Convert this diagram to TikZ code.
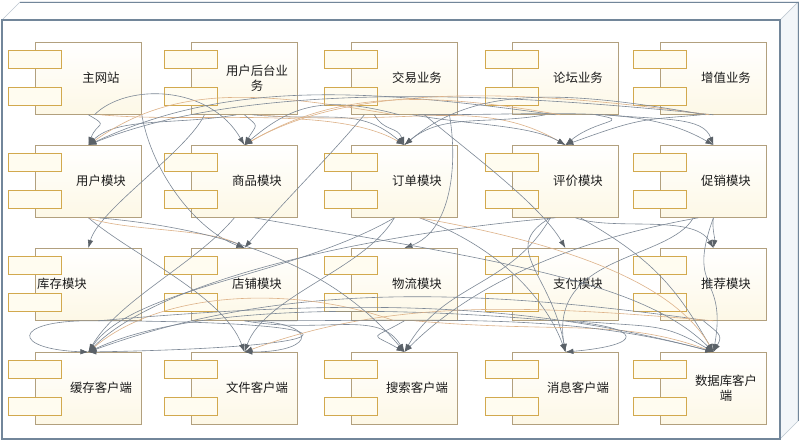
\documentclass[tikz,border=0pt]{standalone}
\usepackage{fontspec}
\newfontfamily\cjk{Noto Sans CJK SC}
\usetikzlibrary{arrows.meta}
\definecolor{framec}{HTML}{72869A}
\definecolor{framel}{HTML}{BCC6D0}
\definecolor{sidefill}{HTML}{F3F6F9}
\definecolor{bodyc}{HTML}{B2A07E}
\definecolor{bodyfill}{HTML}{FDF8E6}
\definecolor{tabc}{HTML}{D2A94E}
\definecolor{tabfill}{HTML}{FFFCF0}
\definecolor{linec}{HTML}{7D8896}
\definecolor{lineo}{HTML}{DDB288}
\definecolor{tipc}{HTML}{5A6168}
\definecolor{labelc}{HTML}{1C1C1C}
\tikzset{
  compbody/.style={draw=bodyc, line width=0.8pt, top color=white, bottom color=bodyfill,
    minimum width=106pt, minimum height=72pt, inner sep=0pt, anchor=north west},
  comptab/.style={draw=tabc, line width=0.8pt, fill=tabfill,
    minimum width=53pt, minimum height=18pt, inner sep=0pt, anchor=north west},
  complabel/.style={font=\cjk\fontsize{12.4}{15}\selectfont, text=labelc, align=center, inner sep=0pt},
  dep/.style={draw=linec, line width=0.6pt, -{Latex[length=8pt,width=5.5pt,color=tipc]}},
  depo/.style={draw=lineo, line width=0.6pt, -{Latex[length=8pt,width=5.5pt,color=tipc]}},
}
\newcommand\compo[5]{%
  \node[compbody] (#1) at (#2,-#3) {};
  \node[comptab] (#1-ta) at ({#2-27},{-#3-8}) {};
  \node[comptab] (#1-tb) at ({#2-27},{-#3-45}) {};
  \node[complabel] (#1-lab) at ({#2+#5},{-#3-36}) {#4};
}
\newcommand\dep[7][dep]{\draw[#1] (#2) to[out=#4,in=#5,out distance=#6pt,in distance=#7pt] (#3);}
\begin{document}
\begin{tikzpicture}[x=1pt,y=1pt]
\useasboundingbox (0,0) rectangle (800,-441);
% 3D frame
\fill[white] (0,0) rectangle (800,-441);
\draw[framel, fill=sidefill, line width=0.6pt] (780,-20) -- (798,-2) -- (798,-421) -- (780,-439) -- cycle;
\draw[framel, fill=white, line width=0.6pt] (2,-20) -- (20,-2) -- (798,-2) -- (780,-20) -- cycle;
\draw[framec, line width=0.9pt] (20,-2) -- (798,-2) -- (798,-421);
\draw[framec, line width=1.1pt, fill=white] (2,-20) rectangle (780,-439);
% components
\compo{zw}{35}{42}{主网站}{66}
\compo{yh}{191}{42}{用户后台业\\务}{66}
\compo{jy}{351}{42}{交易业务}{66}
\compo{lt}{512}{42}{论坛业务}{66}
\compo{zz}{660}{42}{增值业务}{66}
\compo{yhmk}{35}{145}{用户模块}{66}
\compo{spmk}{191}{145}{商品模块}{66}
\compo{ddmk}{351}{145}{订单模块}{66}
\compo{pjmk}{512}{145}{评价模块}{66}
\compo{cxmk}{660}{145}{促销模块}{66}
\compo{kcmk}{35}{248}{库存模块}{27}
\compo{dpmk}{191}{248}{店铺模块}{66}
\compo{wlmk}{351}{248}{物流模块}{66}
\compo{zfmk}{512}{248}{支付模块}{66}
\compo{tjmk}{660}{248}{推荐模块}{66}
\compo{hc}{35}{352}{缓存客户端}{66}
\compo{wj}{191}{352}{文件客户端}{66}
\compo{ss}{351}{352}{搜索客户端}{66}
\compo{xx}{512}{352}{消息客户端}{66}
\compo{sj}{660}{352}{数据库客户\\端}{66}
% row 1 -> row 2
\dep{zw.south}{yhmk.north}{-30}{70}{25}{25}
\dep{[xshift=6pt]zw.south}{spmk.north}{45}{120}{45}{70}
\dep[depo]{[xshift=12pt]zw.south}{ddmk.north}{-5}{150}{100}{80}
\dep{[xshift=-8pt]yh.south}{yhmk.north}{190}{45}{60}{40}
\dep{yh.south}{spmk.north}{-40}{60}{20}{25}
\dep{[xshift=8pt]yh.south}{ddmk.north}{-5}{140}{80}{60}
\dep[depo]{[xshift=14pt]yh.south}{pjmk.north}{-5}{150}{150}{100}
\dep[depo]{[xshift=-10pt]jy.south}{yhmk.north}{170}{35}{150}{100}
\dep{[xshift=-5pt]jy.south}{spmk.north}{165}{40}{80}{60}
\dep{[xshift=-30pt]jy.south}{ddmk.north}{-60}{110}{20}{20}
\dep{[xshift=8pt]jy.south}{pjmk.north}{-10}{150}{60}{40}
\dep{[xshift=14pt]jy.south}{cxmk.north}{0}{150}{150}{80}
\dep{[xshift=-10pt]lt.south}{yhmk.north}{172}{25}{200}{150}
\dep[depo]{[xshift=-5pt]lt.south}{spmk.north}{170}{30}{150}{100}
\dep{[xshift=-20pt]lt.south}{ddmk.north}{190}{40}{60}{50}
\dep{[xshift=30pt]lt.south}{pjmk.north}{-10}{40}{40}{40}
\dep{[xshift=40pt]lt.south}{cxmk.north}{-5}{110}{60}{30}
\dep{zz.south}{yhmk.north}{174}{22}{250}{160}
\dep[depo]{[xshift=-4pt]zz.south}{spmk.north}{172}{30}{200}{120}
\dep{[xshift=-8pt]zz.south}{ddmk.north}{170}{40}{150}{90}
\dep{[xshift=-12pt]zz.south}{pjmk.north}{185}{20}{60}{80}
% row 1 -> row 3
\dep{zw.south east}{dpmk.north}{-80}{160}{60}{50}
\dep{[xshift=-40pt]yh.south}{kcmk.north}{-115}{75}{40}{40}
\dep{[xshift=-40pt]jy.south}{dpmk.north}{-130}{50}{60}{60}
\dep{[xshift=20pt]jy.south}{zfmk.north}{-40}{120}{60}{50}
\dep{[xshift=45pt]jy.south}{wlmk.north}{-80}{20}{50}{50}
% row 2 -> row 3
\dep{[xshift=10pt]pjmk.south}{tjmk.north}{-20}{120}{40}{40}
\dep{cxmk.south}{tjmk.north}{-100}{80}{10}{10}
\dep[depo]{yhmk.south}{dpmk.north}{-20}{150}{40}{40}
% into cache client
\dep{[xshift=-10pt]spmk.south}{hc.north}{-130}{60}{60}{60}
\dep{[xshift=-10pt]ddmk.south}{hc.north}{-150}{55}{120}{80}
\dep{[xshift=-10pt]pjmk.south}{hc.north}{185}{45}{200}{100}
\dep{[xshift=-10pt]zfmk.south}{hc.north}{175}{25}{150}{120}
\dep{[xshift=-5pt]tjmk.south}{hc.north}{172}{20}{250}{200}
\dep[depo]{[xshift=-10pt]wlmk.south}{hc.north}{160}{40}{100}{100}
\dep{kcmk.south}{hc.north}{0}{1}{285}{285}
\dep{kcmk.south}{hc.north}{180}{178}{77}{77}
% into file client
\dep{dpmk.south}{wj.north}{0}{0}{75}{75}
\dep{yhmk.south}{wj.north}{-40}{110}{60}{60}
\dep{[xshift=-10pt]ddmk.south}{wj.north}{-120}{70}{60}{60}
\dep[depo]{tjmk.south}{wj.north}{175}{20}{200}{150}
% into search client
\dep{dpmk.south}{ss.north}{-10}{120}{80}{50}
\dep{wlmk.south}{ss.north}{-150}{150}{40}{40}
\dep{[xshift=-15pt]pjmk.south}{ss.north}{-120}{60}{80}{80}
\dep{[xshift=10pt]yhmk.south}{ss.north}{-5}{130}{150}{100}
\dep{[xshift=-15pt]cxmk.south}{ss.north}{190}{45}{150}{80}
% into message client
\dep{zfmk.south}{xx.north}{-5}{5}{80}{80}
\dep{[xshift=-15pt]pjmk.south}{xx.north}{-150}{100}{60}{80}
\dep{[xshift=15pt]ddmk.south}{xx.north}{-20}{110}{80}{60}
\dep{[xshift=-20pt]cxmk.south}{xx.north}{-120}{100}{50}{100}
% into database client
\dep{[xshift=-10pt]tjmk.south}{sj.north}{-40}{60}{20}{20}
\dep{cxmk.south}{sj.north}{-110}{80}{80}{80}
\dep{[xshift=15pt]pjmk.south}{sj.north}{-30}{120}{80}{80}
\dep{[xshift=10pt]zfmk.south}{sj.north}{-5}{150}{80}{60}
\dep[depo]{[xshift=10pt]wlmk.south}{sj.north}{-5}{160}{150}{100}
\dep{[xshift=10pt]dpmk.south}{sj.north}{0}{165}{200}{150}
\dep{[xshift=10pt]kcmk.south}{sj.north}{5}{165}{250}{200}
\dep{[xshift=10pt]spmk.south}{sj.north}{-10}{135}{250}{100}
\dep[depo]{[xshift=15pt]ddmk.south}{sj.north}{-10}{120}{150}{80}
\end{tikzpicture}
\end{document}
